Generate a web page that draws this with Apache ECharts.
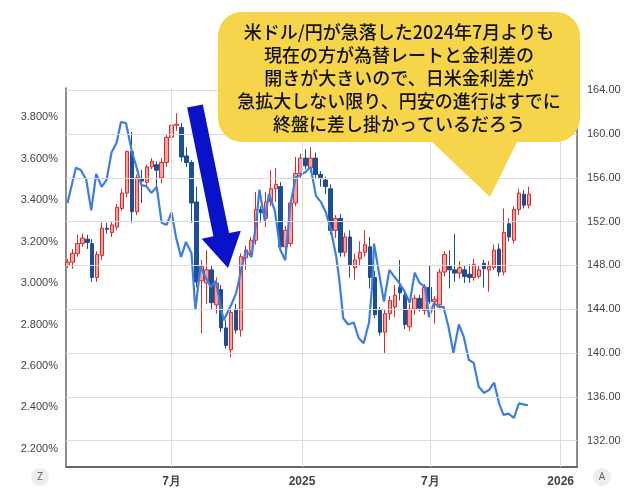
<!DOCTYPE html>
<html><head><meta charset="utf-8">
<script src="https://cdn.jsdelivr.net/npm/echarts@6/dist/echarts.min.js"></script>
<style>html,body{margin:0;padding:0;background:#fff}#c{width:640px;height:500px}</style>
</head><body><div id="c"></div>
<script>
// USD/JPY weekly candles (right axis)
const opens  = [148.0,148.3,149.1,150.0,150.4,150.0,146.9,148.9,151.4,151.0,151.5,153.2,154.6,158.4,152.9,155.9,155.6,157.0,157.2,156.0,157.4,159.7,160.8,160.6,158.0,157.4,153.8,146.6,146.4,147.6,144.4,145.8,142.3,140.3,144.0,142.1,148.7,149.3,150.3,153.1,152.3,153.8,155.0,155.2,149.7,150.0,153.7,156.4,157.8,156.9,157.8,156.3,155.8,155.0,151.2,152.3,149.2,150.6,147.8,148.6,149.2,149.7,146.9,143.9,141.9,143.6,144.2,146.0,145.3,142.4,144.0,145.0,143.9,146.0,144.7,144.4,147.4,147.9,147.6,147.3,147.6,147.2,146.9,147.0,148.2,147.6,147.8,149.5,147.4,151.8,150.3,153.1,154.5,153.5];
const closes = [148.3,149.1,150.0,150.5,150.1,146.9,149.0,151.4,151.3,151.7,153.3,154.6,158.4,152.9,156.0,155.7,157.0,157.5,156.7,157.4,159.7,160.8,160.9,157.9,157.4,153.7,146.5,147.9,147.6,144.6,146.4,142.3,140.7,143.7,142.1,148.8,149.4,150.3,153.1,152.8,153.8,155.0,155.4,149.7,151.2,153.7,156.4,157.8,157.1,157.8,156.3,156.0,155.2,151.2,152.3,149.2,150.6,148.0,148.5,149.2,149.9,146.9,143.5,141.9,143.6,144.8,145.3,145.5,142.6,144.0,145.0,144.1,146.0,144.7,144.9,147.4,149.0,147.6,147.3,147.8,147.0,146.9,148.1,147.6,147.7,147.9,149.4,147.4,151.0,150.6,153.1,154.6,153.5,154.5];
const lows   = [147.8,147.7,148.8,149.7,149.5,146.5,146.5,148.5,150.9,150.6,151.2,153.0,154.2,151.9,152.6,153.7,155.3,156.8,154.9,155.5,157.0,159.3,160.3,157.5,157.0,151.9,146.0,141.8,144.5,144.0,143.6,141.9,140.4,139.6,141.8,141.5,147.6,148.9,149.9,151.9,151.5,153.4,153.8,149.4,148.5,149.7,153.4,156.0,156.8,156.5,155.9,155.2,154.5,150.8,150.5,148.8,148.8,146.9,146.7,148.0,148.8,145.9,143.2,141.6,140.0,143.0,143.3,144.8,142.2,142.0,143.5,143.8,143.5,144.5,142.7,144.1,147.0,145.9,146.5,146.8,146.4,146.4,146.6,146.8,146.0,145.6,147.6,147.0,147.1,150.2,150.0,152.6,153.2,153.2];
const highs  = [148.6,149.5,150.8,150.9,150.8,150.4,149.3,151.9,151.9,152.0,153.6,155.0,158.5,160.2,156.3,156.7,157.2,157.8,157.5,157.8,160.0,161.3,161.9,161.0,158.8,157.6,155.2,148.5,149.4,148.0,146.9,146.2,143.0,144.0,144.5,149.1,149.8,150.6,154.7,153.4,154.7,156.7,156.9,155.6,151.6,154.0,157.9,158.2,158.6,158.8,158.3,156.6,156.1,155.4,152.6,152.7,151.0,151.2,149.1,150.2,151.2,150.6,147.5,144.2,144.0,145.2,146.2,148.5,145.6,144.5,145.3,145.3,146.3,148.0,145.2,147.7,149.3,149.4,150.9,148.4,148.0,148.1,148.6,148.0,148.5,148.4,149.9,150.0,153.2,152.3,153.4,155.0,154.9,155.2];
// US-JP rate spread (left axis), position in weeks from first candle
const spreadWeeks = [0,1.7,2.7,3.8,4.8,5.8,6.9,7.9,8.9,9.9,10.8,11.8,12.6,13,13.8,14.9,15.9,16.9,18,19,20,21,21.9,22.9,23.9,25,25.8,26.8,27.8,28.9,29.9,30.9,31.5,33,34,35,36,37.1,38.1,38.7,39.8,40.6,41.8,42.9,43.9,44.9,46,47,48,49,50.1,51.1,52.1,53.1,54.2,54.8,55.6,56.6,57.7,58.7,59.7,60.8,61.4,61.8,62.8,63.8,64.9,65.9,66.9,68,69,70,71,72.1,72.9,73.9,74.8,75.8,76.8,77.8,78.9,79.9,80.9,81.9,82.9,84,85,86,87,87.9,88.9,90,91,92.8];
const spreadVals  = [3.385,3.555,3.545,3.497,3.35,3.526,3.463,3.497,3.63,3.675,3.776,3.771,3.68,3.632,3.569,3.472,3.467,3.434,3.463,3.29,3.28,3.34,3.22,3.125,3.198,3.145,2.87,3.077,3.03,2.98,3.01,2.885,2.82,2.894,2.95,3.06,3.16,3.125,3.30,3.45,3.30,3.43,3.35,3.16,3.11,3.37,3.51,3.52,3.535,3.56,3.42,3.39,3.34,3.256,3.125,3.015,2.83,2.80,2.81,2.735,2.71,2.81,2.98,3.19,3.05,2.91,3.063,3.03,3.0,2.957,2.904,3.05,3.0,2.98,2.836,2.904,2.885,2.885,2.79,2.663,2.80,2.74,2.63,2.615,2.5,2.47,2.485,2.52,2.42,2.364,2.37,2.35,2.42,2.41];
const leftTicks  = [2.2,2.4,2.6,2.8,3.0,3.2,3.4,3.6,3.8];
const rightTicks = [132,136,140,144,148,152,156,160,164];
const xTickDates = ['2024-07-01','2025-01-01','2025-07-01','2026-01-01'];
const xTickLabels = ['7月','2025','7月','2026'];
const calloutLines = ['米ドル/円が急落した2024年7月よりも','現在の方が為替レートと金利差の','開きが大きいので、日米金利差が','急拡大しない限り、円安の進行はすでに','終盤に差し掛かっているだろう'];

const DAY = 864e5, WEEK = 7*DAY;
const t0 = Date.UTC(2024,1,5);
const ts = s => { const p = s.split('-').map(Number); return Date.UTC(p[0],p[1]-1,p[2]); };
const candleData = opens.map((o,i)=>[t0+i*WEEK, o, closes[i], lows[i], highs[i]]);
const lineData = spreadWeeks.map((w,i)=>[t0+w*WEEK, spreadVals[i]]);
const xTicks = xTickDates.map(ts);

const chart = echarts.init(document.getElementById('c'));
const gridStyle = {color:'#dcdcdc', width:1, type:'solid'};
const tail=[195,106], tip=[228,268];
const dx=tip[0]-tail[0], dy=tip[1]-tail[1], L=Math.hypot(dx,dy), ux=dx/L, uy=dy/L, px=-uy, py=ux;
const hb=[tip[0]-ux*34, tip[1]-uy*34];
const P=(b,s)=>[b[0]+px*s,b[1]+py*s];
const arrowPts=[P(tail,-8),P(tail,8),P(hb,8),P(hb,20),tip,P(hb,-20),P(hb,-8)];

chart.setOption({
  animation:false,
  grid:{left:66,right:63,top:88,bottom:33},
  xAxis:{type:'value',min:ts('2024-02-03'),max:ts('2026-01-24'),
    axisLine:{show:true,lineStyle:{color:'#666',width:2}},axisTick:{show:false},splitLine:{show:false},
    axisLabel:{customValues:xTicks,color:'#444',fontSize:12,fontWeight:'bold',margin:9,
      formatter:v=>{const i=xTicks.indexOf(v);return i>=0?xTickLabels[i]:'';}}},
  yAxis:[
    {type:'value',position:'left',min:2.113,max:3.94,splitLine:{show:false},
     axisLine:{show:true,lineStyle:{color:'#666',width:1.5}},axisTick:{show:false},
     axisLabel:{customValues:leftTicks,color:'#444',fontSize:11,margin:8,formatter:v=>v.toFixed(3)+'%'}},
    {type:'value',position:'right',min:129.6,max:164.2,splitLine:{show:false},
     axisLine:{show:true,lineStyle:{color:'#666',width:1.5}},axisTick:{show:false},
     axisLabel:{customValues:rightTicks,color:'#444',fontSize:11,margin:10,formatter:v=>v.toFixed(2)}}
  ],
  series:[
    {type:'line',yAxisIndex:1,data:[],z:0,silent:true,
     markLine:{silent:true,symbol:'none',label:{show:false},lineStyle:gridStyle,animation:false,
       data:rightTicks.map(v=>({yAxis:v})).concat(xTicks.map(v=>({xAxis:v})))}},
    {type:'candlestick',yAxisIndex:1,data:candleData,barWidth:4,z:2,
     itemStyle:{color:'#f7a3a3',color0:'#1b4f97',borderColor:'#e02a2a',borderColor0:'#1b4f97',borderWidth:1}},
    {type:'line',yAxisIndex:0,data:lineData,symbol:'none',z:3,
     lineStyle:{color:'#3d7ee3',width:2.2}}
  ],
  graphic:[
    {type:'polygon',shape:{points:arrowPts},style:{fill:'#0a12c9'},z:10},
    {type:'rect',shape:{x:218,y:12,width:362,height:130,r:24},style:{fill:'#f6d54b'},z:10},
    {type:'polygon',shape:{points:[[430,140],[490,197],[518,140]]},style:{fill:'#f6d54b'},z:10},
    ...calloutLines.map((s,i)=>({type:'text',x:399,y:32+i*23,z:11,
      style:{text:s,fill:'#111',font:'500 18px "Noto Sans CJK JP"',textAlign:'center',textVerticalAlign:'middle'}})),
    {type:'circle',shape:{cx:40,cy:477,r:9},style:{fill:'#eeeeee'},z:10},
    {type:'text',x:40,y:477,z:11,style:{text:'Z',fill:'#666',font:'10px "Noto Sans"',textAlign:'center',textVerticalAlign:'middle'}},
    {type:'circle',shape:{cx:602,cy:477,r:9},style:{fill:'#eeeeee'},z:10},
    {type:'text',x:602,y:477,z:11,style:{text:'A',fill:'#666',font:'10px "Noto Sans"',textAlign:'center',textVerticalAlign:'middle'}}
  ]
});
</script></body></html>
